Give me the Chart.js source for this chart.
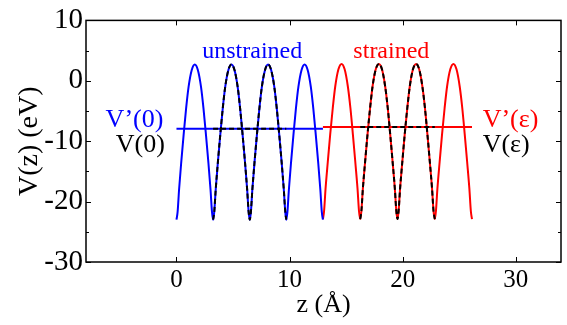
<!DOCTYPE html>
<html><head><meta charset="utf-8">
<script src="https://cdn.jsdelivr.net/npm/chart.js@4/dist/chart.umd.min.js"></script>
<style>html,body{margin:0;padding:0;background:#fff;}#wrap{width:567px;height:325px;}</style>
</head><body><div id="wrap"><canvas id="c" width="567" height="325" style="width:567px;height:325px"></canvas></div>
<script>
// ---- data ----
const xTicks = [0, 10, 20, 30];
const yTicks = [-30, -20, -10, 0, 10];
const yMinorTicks = [-25, -15, -5, 5];

// unstrained potential V'(0)
const blueZ = [0, 0.10, 0.23, 0.42, 0.63, 0.85, 1.07, 1.35, 1.62, 1.89, 2.17, 2.39, 2.61, 2.82, 3.01, 3.14,
               3.24, 3.34, 3.47, 3.66, 3.87, 4.09, 4.31, 4.59, 4.86, 5.13, 5.41, 5.63, 5.85, 6.06, 6.25, 6.38,
               6.48, 6.58, 6.71, 6.90, 7.11, 7.33, 7.55, 7.83, 8.10, 8.37, 8.65, 8.87, 9.09, 9.30, 9.49, 9.62,
               9.71, 9.81, 9.94, 10.13, 10.34, 10.56, 10.78, 11.06, 11.33, 11.60, 11.88, 12.10, 12.32, 12.53, 12.72, 12.85,
               12.95];
const blueV = [-23, -21.7, -18, -13.5, -9, -4.6, -1.0, 1.8, 2.7, 1.8, -1.0, -4.6, -9, -13.5, -18, -21.7,
               -23, -21.7, -18, -13.5, -9, -4.6, -1.0, 1.8, 2.7, 1.8, -1.0, -4.6, -9, -13.5, -18, -21.7,
               -23, -21.7, -18, -13.5, -9, -4.6, -1.0, 1.8, 2.7, 1.8, -1.0, -4.6, -9, -13.5, -18, -21.7,
               -23, -21.7, -18, -13.5, -9, -4.6, -1.0, 1.8, 2.7, 1.8, -1.0, -4.6, -9, -13.5, -18, -21.7,
               -23];
// strained potential V'(eps)
const redZ = [12.95, 13.05, 13.18, 13.38, 13.59, 13.82, 14.04, 14.32, 14.60, 14.87, 15.15, 15.38, 15.60, 15.81, 16.01, 16.14,
              16.25, 16.35, 16.48, 16.68, 16.89, 17.12, 17.34, 17.62, 17.90, 18.17, 18.45, 18.68, 18.90, 19.11, 19.31, 19.44,
              19.54, 19.64, 19.77, 19.97, 20.18, 20.41, 20.63, 20.91, 21.19, 21.46, 21.74, 21.97, 22.19, 22.40, 22.60, 22.73,
              22.84, 22.94, 23.07, 23.27, 23.48, 23.71, 23.93, 24.21, 24.49, 24.76, 25.04, 25.27, 25.49, 25.70, 25.90, 26.03,
              26.13];
const redV = [-22.9, -21.6, -17.9, -13.4, -8.9, -4.5, -0.9, 1.9, 2.8, 1.9, -0.9, -4.5, -8.9, -13.4, -17.9, -21.6,
              -22.9, -21.6, -17.9, -13.4, -8.9, -4.5, -0.9, 1.9, 2.8, 1.9, -0.9, -4.5, -8.9, -13.4, -17.9, -21.6,
              -22.9, -21.6, -17.9, -13.4, -8.9, -4.5, -0.9, 1.9, 2.8, 1.9, -0.9, -4.5, -8.9, -13.4, -17.9, -21.6,
              -22.9, -21.6, -17.9, -13.4, -8.9, -4.5, -0.9, 1.9, 2.8, 1.9, -0.9, -4.5, -8.9, -13.4, -17.9, -21.6,
              -22.9];
// average lines
const blueAvgZ = [0, 12.95];       const blueAvgV = [-7.95, -7.95];
const redAvgZ = [12.95, 26.13];    const redAvgV = [-7.65, -7.65];
// bulk (black dashed) segments
const blackBlueRange = [16, 48];   // indices into blue arrays
const blackRedRange = [16, 48];    // indices into red arrays
const blackBlueAvgZ = [3.24, 9.71];  const blackBlueAvgV = [-7.95, -7.95];
const blackRedAvgZ = [16.25, 22.84]; const blackRedAvgV = [-7.65, -7.65];

const labels = [
  {text: 'unstrained', x: 6.7, y: 3.82, color: '#0000ff', align: 'center', size: 24},
  {text: 'strained', x: 19.0, y: 3.82, color: '#ff0000', align: 'center', size: 24},
  {text: 'V\u2019(0)', x: -1.16, y: -7.63, color: '#0000ff', align: 'right', size: 26},
  {text: 'V(0)', x: -1.03, y: -11.8, color: '#000000', align: 'right', size: 26},
  {text: 'V\u2019(\u03b5)', x: 27.07, y: -7.63, color: '#ff0000', align: 'left', size: 26},
  {text: 'V(\u03b5)', x: 27.07, y: -11.8, color: '#000000', align: 'left', size: 26}
];

const pts = (zs, vs) => zs.map((z, i) => ({x: z, y: vs[i]}));
const SERIF = "'Liberation Serif', 'Times New Roman', serif";

function ds(data, color, dashed, order) {
  return {
    data, borderColor: color, borderWidth: 2, pointRadius: 0, showLine: true,
    fill: false, cubicInterpolationMode: 'monotone', borderDash: dashed ? [5, 3] : [],
    order
  };
}

const frame = {
  id: 'frame',
  afterDatasetsDraw(chart) {
    const {ctx, chartArea: a, scales: {x, y}} = chart;
    ctx.save();
    ctx.strokeStyle = '#000';
    ctx.lineWidth = 1.5;
    ctx.strokeRect(a.left, a.top, a.right - a.left, a.bottom - a.top);
    ctx.lineWidth = 1;
    ctx.beginPath();
    xTicks.forEach(v => {
      const p = Math.round(x.getPixelForValue(v)) + 0.5;
      ctx.moveTo(p, a.bottom); ctx.lineTo(p, a.bottom - 5);
      ctx.moveTo(p, a.top); ctx.lineTo(p, a.top + 5);
    });
    yTicks.forEach(v => {
      const p = Math.round(y.getPixelForValue(v)) + 0.5;
      ctx.moveTo(a.left, p); ctx.lineTo(a.left + 5, p);
      ctx.moveTo(a.right, p); ctx.lineTo(a.right - 5, p);
    });
    yMinorTicks.forEach(v => {
      const p = Math.round(y.getPixelForValue(v)) + 0.5;
      ctx.moveTo(a.left, p); ctx.lineTo(a.left + 3, p);
      ctx.moveTo(a.right, p); ctx.lineTo(a.right - 3, p);
    });
    ctx.stroke();
    labels.forEach(l => {
      ctx.font = l.size + 'px ' + SERIF;
      ctx.fillStyle = l.color;
      ctx.textAlign = l.align;
      ctx.textBaseline = 'alphabetic';
      ctx.fillText(l.text, x.getPixelForValue(l.x), y.getPixelForValue(l.y));
    });
    ctx.restore();
  }
};

const sliceDs = (zs, vs, r) => pts(zs.slice(r[0], r[1] + 1), vs.slice(r[0], r[1] + 1));

new Chart(document.getElementById('c'), {
  type: 'scatter',
  data: {
    datasets: [
      ds(sliceDs(blueZ, blueV, blackBlueRange), '#000000', true, 0),
      ds(pts(blackBlueAvgZ, blackBlueAvgV), '#000000', true, 0),
      ds(sliceDs(redZ, redV, blackRedRange), '#000000', true, 0),
      ds(pts(blackRedAvgZ, blackRedAvgV), '#000000', true, 0),
      ds(pts(blueZ, blueV), '#0000ff', false, 1),
      ds(pts(blueAvgZ, blueAvgV), '#0000ff', false, 1),
      ds(pts(redZ, redV), '#ff0000', false, 1),
      ds(pts(redAvgZ, redAvgV), '#ff0000', false, 1)
    ]
  },
  options: {
    responsive: false, animation: false, devicePixelRatio: 1,
    layout: {padding: {top: 14, right: 6, left: 0, bottom: 0}},
    plugins: {legend: {display: false}, tooltip: {enabled: false}},
    scales: {
      x: {
        type: 'linear', min: -8, max: 34,
        afterBuildTicks: s => { s.ticks = xTicks.map(v => ({value: v})); },
        afterFit: s => { s.height = 63; },
        grid: {display: false, drawTicks: false}, border: {display: false},
        ticks: {font: {family: SERIF, size: 25}, color: '#000', padding: 3, maxRotation: 0},
        title: {display: true, text: 'z (\u00c5)', font: {family: SERIF, size: 26}, color: '#000', padding: {top: 0, bottom: 4}}
      },
      y: {
        type: 'linear', min: -30, max: 10,
        afterBuildTicks: s => { s.ticks = yTicks.map(v => ({value: v})); },
        afterFit: s => { s.width = 86; },
        grid: {display: false, drawTicks: false}, border: {display: false},
        ticks: {font: {family: SERIF, size: 29}, color: '#000', padding: 3},
        title: {display: true, text: 'V(z) (eV)', font: {family: SERIF, size: 28}, color: '#000', padding: {top: 13, bottom: 0}}
      }
    }
  },
  plugins: [frame]
});
</script></body></html>
